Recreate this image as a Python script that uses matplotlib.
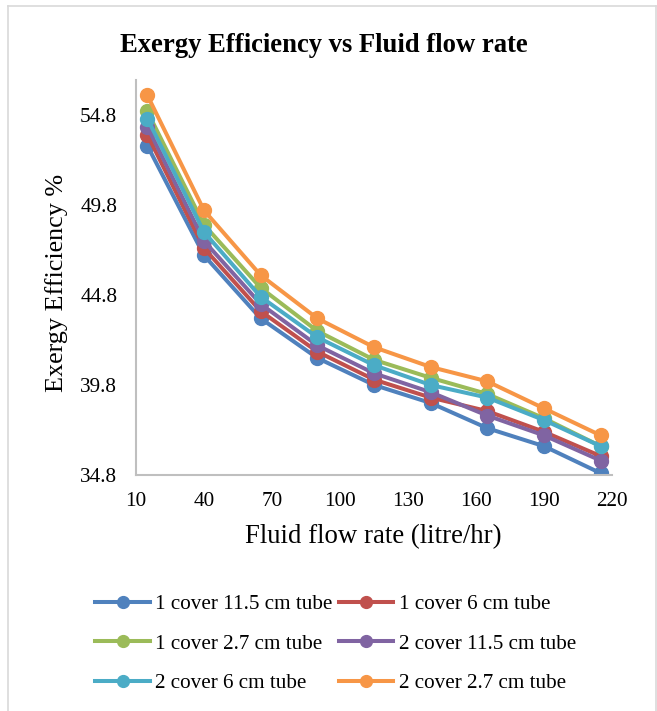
import matplotlib
matplotlib.use("Agg")
import matplotlib.pyplot as plt
from matplotlib.lines import Line2D

flow_rate = [15, 40, 65, 90, 115, 140, 165, 190, 215]
series_names = ["1 cover 11.5 cm tube", "1 cover 6 cm tube", "1 cover 2.7 cm tube",
                "2 cover 11.5 cm tube", "2 cover 6 cm tube", "2 cover 2.7 cm tube"]
c1_115 = [53.1, 47.0, 43.5, 41.3, 39.8, 38.8, 37.4, 36.4, 34.9]
c1_6 = [53.7, 47.4, 43.9, 41.65, 40.1, 39.1, 38.35, 37.2, 35.85]
c1_27 = [55.0, 48.7, 45.2, 42.8, 41.2, 40.2, 39.3, 37.95, 36.4]
c2_115 = [54.15, 47.8, 44.3, 42.0, 40.45, 39.4, 38.1, 37.0, 35.6]
c2_6 = [54.6, 48.3, 44.7, 42.45, 40.9, 39.8, 39.1, 37.85, 36.4]
c2_27 = [55.9, 49.5, 45.9, 43.5, 41.9, 40.8, 40.0, 38.5, 37.0]
series = [c1_115, c1_6, c1_27, c2_115, c2_6, c2_27]
colors = ["#4F81BD", "#C0504D", "#9BBB59", "#8064A2", "#4BACC6", "#F79646"]
x_ticks = [10, 40, 70, 100, 130, 160, 190, 220]
y_ticks = [34.8, 39.8, 44.8, 49.8, 54.8]

plt.rcParams['font.family'] = ['Liberation Serif', 'DejaVu Serif']

W, H = 657, 711
fig = plt.figure(figsize=(W / 100, H / 100), dpi=100)
ax = fig.add_axes([136 / W, 1 - 475 / H, (612 - 136) / W, (475 - 80) / H])

for name, vals, col in zip(series_names, series, colors):
    ax.plot(flow_rate, vals, color=col, lw=2.9, marker='o', markersize=10,
            label=name, solid_joinstyle='round')

ax.set_xlim(10, 220)
ax.set_ylim(34.8, 34.8 + (475 - 80) / 18.0)
ax.set_xticks(x_ticks)
ax.set_yticks(y_ticks)
ax.set_yticklabels([f"{v:.1f}" for v in y_ticks])
ax.tick_params(length=0, labelsize=15.3)
ax.tick_params(axis='x', pad=12)
ax.tick_params(axis='y', pad=13.5)
for s in ['top', 'right']:
    ax.spines[s].set_visible(False)
for s in ['left', 'bottom']:
    ax.spines[s].set_color('#bfbfbf')
    ax.spines[s].set_linewidth(1.5)

ax.set_xlabel("Fluid flow rate (litre/hr)", fontsize=19.3)
ax.xaxis.set_label_coords((373 - 136) / (612 - 136), -(537 - 475) / (475 - 80))
ax.xaxis.label.set_va('center')
ax.set_ylabel("Exergy Efficiency %", fontsize=18.8)
ax.yaxis.set_label_coords(-(136 - 57) / (612 - 136), (475 - 283) / (475 - 80))
ax.yaxis.label.set_va('center')

fig.text(324 / W, 1 - 45 / H, "Exergy Efficiency vs Fluid flow rate",
         ha='center', va='center', fontsize=19.2, fontweight='bold')

handles, labels = ax.get_legend_handles_labels()
order = [0, 2, 4, 1, 3, 5]
leg = fig.legend([handles[i] for i in order], [labels[i] for i in order], ncol=2,
                 loc='upper left', bbox_to_anchor=(89 / W, 1 - 588 / H), frameon=False,
                 fontsize=15.2, handlelength=2.6, handletextpad=0.24,
                 columnspacing=0.28, labelspacing=0.93, markerscale=0.85,
                 borderaxespad=0, borderpad=0.3)

# outer chart border (top, left, right)
bc = '#d9d9d9'
fig.add_artist(Line2D([7.5 / W, 656 / W], [1 - 6 / H, 1 - 6 / H], color=bc, lw=1.2, transform=fig.transFigure))
fig.add_artist(Line2D([7.5 / W, 7.5 / W], [0, 1 - 6 / H], color=bc, lw=1.2, transform=fig.transFigure))
fig.add_artist(Line2D([656 / W, 656 / W], [0, 1 - 6 / H], color=bc, lw=1.2, transform=fig.transFigure))

fig.savefig("out.png", dpi=100)
